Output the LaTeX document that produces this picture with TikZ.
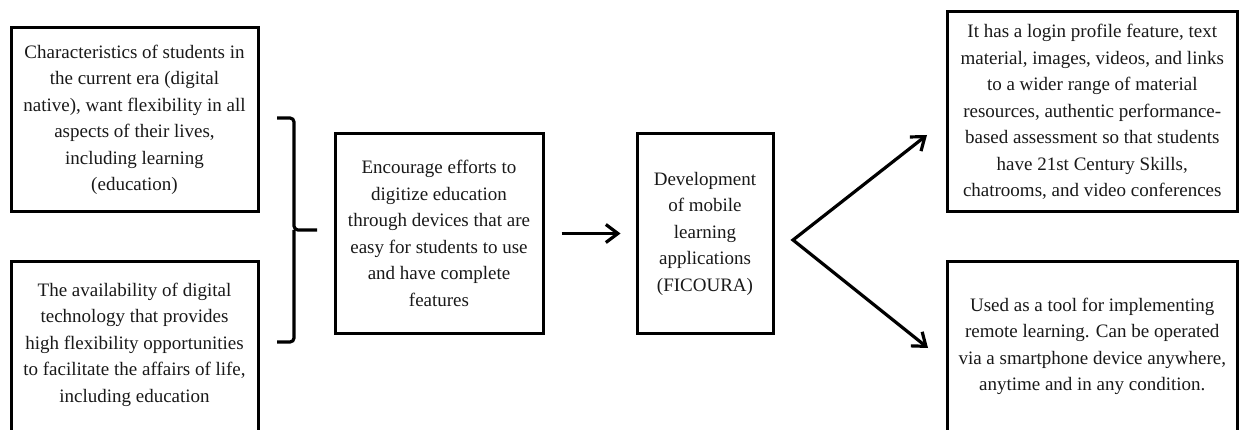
\documentclass[tikz,border=0pt]{standalone}
\usepackage{fontspec}
\setmainfont{Liberation Serif}
\usetikzlibrary{arrows.meta}
\begin{document}
\begin{tikzpicture}[x=1pt,y=-1pt,
  box/.style={draw=black, line width=3pt, inner sep=0pt, align=center, text=black!90,
    font=\fontsize{19}{26.5}\selectfont},
  barb/.tip={Straight Barb[length=12pt,width=18pt,line width=3.2pt]},
  conn/.style={draw=black, line width=3.2pt, -barb},
  bracestyle/.style={draw=black, line width=3.2pt, rounded corners=4pt}
]
\useasboundingbox (0,0) rectangle (1239,430);
\fill[white] (0,0) rectangle (1239,430);

\node[box, minimum width=247pt, minimum height=184pt] (b1) at (134.5,120)
  {Characteristics of students in\\ the current era (digital\\ native), want flexibility in all\\ aspects of their lives,\\ including learning\\ (education)};
\node[box, minimum width=247pt, minimum height=178pt, text depth=17pt] (b2) at (134.5,351)
  {The availability of digital\\ technology that provides\\ high flexibility opportunities\\ to facilitate the affairs of life,\\ including education};
\node[box, minimum width=208pt, minimum height=199pt] (b3) at (439,233.5)
  {Encourage efforts to\\ digitize education\\ through devices that are\\ easy for students to use\\ and have complete\\ features};
\node[box, minimum width=136pt, minimum height=199pt] (b4) at (705,233.5)
  {Development\\ of mobile\\ learning\\ applications\\ (FICOURA)};
\node[box, minimum width=290.5pt, minimum height=200pt] (b5) at (1092.25,112)
  {It has a login profile feature, text\\ material, images, videos, and links\\ to a wider range of material\\ resources, authentic performance-\\ based assessment so that students\\ have 21st Century Skills,\\ chatrooms, and video conferences};
\node[box, minimum width=290.5pt, minimum height=178pt, text depth=13pt] (b6) at (1092.25,351)
  {Used as a tool for implementing\\ remote learning. Can be operated\\ via a smartphone device anywhere,\\ anytime and in any condition.};

% brace joining the two left boxes
\coordinate (brtop) at (277,118);
\coordinate (brbot) at (277,342);
\coordinate (brmid) at (294,230);
\coordinate (brtip) at (317,230);
\draw[bracestyle] (brtop) -- (brtop -| brmid) -- (brmid) -- (brtip);
\draw[bracestyle] (brbot) -- (brbot -| brmid) -- (brmid);

% arrow between middle boxes
\draw[conn, shorten <=17pt, shorten >=15pt] (b3) -- (b4);

% fork to the right boxes
\coordinate (fork) at (793,240);
\coordinate (t1) at (927,135);
\coordinate (t2) at (928,348);
\draw[conn, barb-barb, line join=miter] (t1) -- (fork) -- (t2);
\end{tikzpicture}
\end{document}
